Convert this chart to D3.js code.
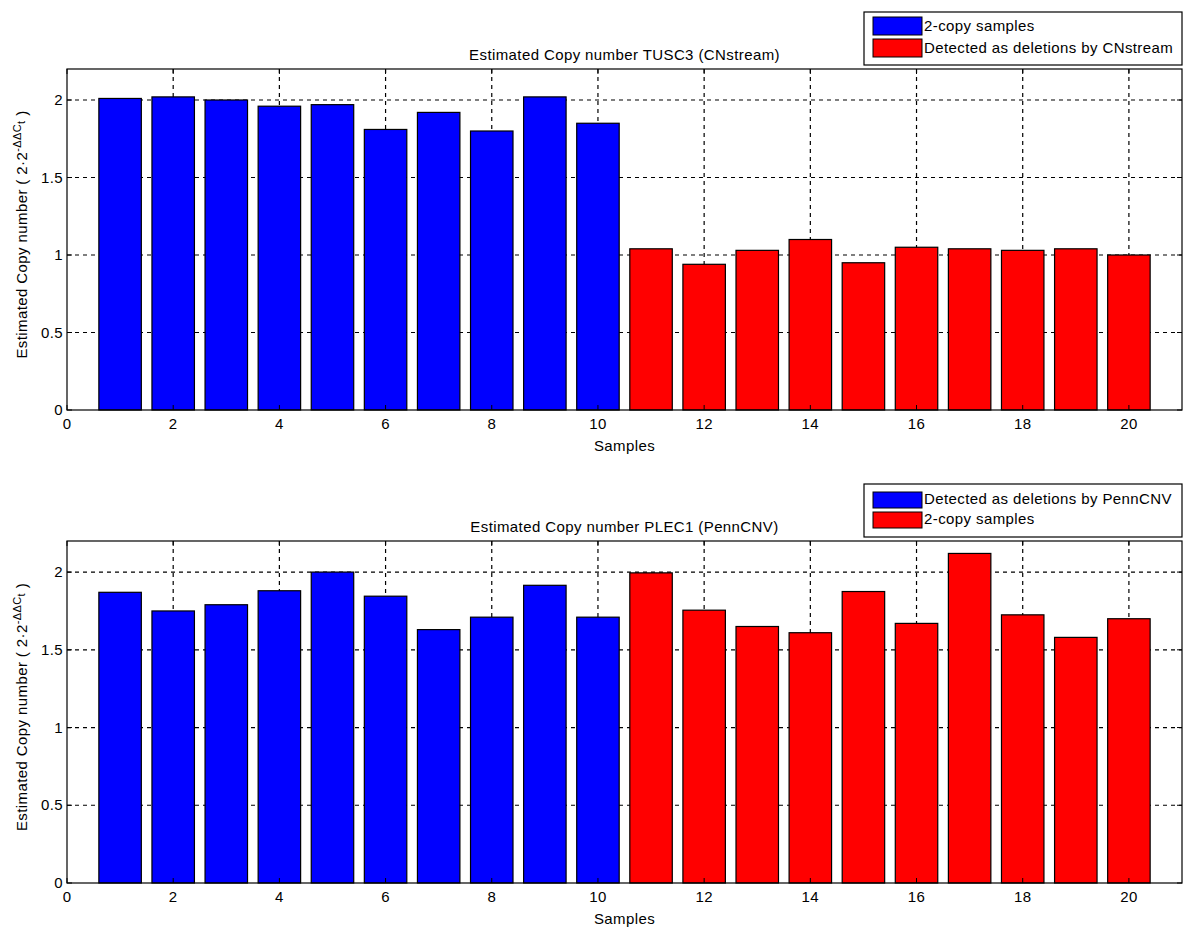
<!DOCTYPE html>
<html><head><meta charset="utf-8">
<script src="https://cdn.jsdelivr.net/npm/d3@7"></script>
<style>body{margin:0;background:#fff;} text{font-family:Arial,"Liberation Sans",sans-serif;letter-spacing:0.4px;}</style>
</head><body>
<svg id="c" width="1200" height="948"></svg>
<script>
const samples = d3.range(1, 21);
const topValues = [2.01,2.02,2.00,1.96,1.97,1.81,1.92,1.80,2.02,1.85,1.04,0.94,1.03,1.10,0.95,1.05,1.04,1.03,1.04,1.00];
const bottomValues = [1.87,1.75,1.79,1.88,2.00,1.845,1.63,1.71,1.915,1.71,1.995,1.755,1.65,1.61,1.875,1.67,2.12,1.725,1.58,1.70];
const topTitle = "Estimated Copy number TUSC3 (CNstream)";
const bottomTitle = "Estimated Copy number PLEC1 (PennCNV)";
const topLegend = ["2-copy samples", "Detected as deletions by CNstream"];
const bottomLegend = ["Detected as deletions by PennCNV", "2-copy samples"];
const xTicks = [0,2,4,6,8,10,12,14,16,18,20];
const yTicks = [0,0.5,1,1.5,2];
const groupColors = ["#0000ff", "#ff0000"];

const svg = d3.select("#c");
const FS = 15;

function panel(cfg){
  const L=67, R=1182, T=cfg.top, B=cfg.bottom;
  const x = d3.scaleLinear().domain([0,21]).range([L,R]);
  const y = d3.scaleLinear().domain([0,2.2]).range([B,T]);
  const g = svg.append("g");
  g.selectAll(".gx").data(xTicks.filter(d=>d>0)).join("line")
    .attr("x1",d=>x(d)).attr("x2",d=>x(d)).attr("y1",T).attr("y2",B)
    .attr("stroke","#000").attr("stroke-dasharray","4,4").attr("stroke-width",1.2);
  g.selectAll(".gy").data(yTicks.filter(d=>d>0)).join("line")
    .attr("x1",L).attr("x2",R).attr("y1",d=>y(d)).attr("y2",d=>y(d))
    .attr("stroke","#000").attr("stroke-dasharray","4,4").attr("stroke-width",1.2);
  const bw = x(0.8)-x(0);
  g.selectAll(".bar").data(cfg.values).join("rect")
    .attr("x",(d,i)=>x(samples[i])-bw/2).attr("width",bw)
    .attr("y",d=>y(d)).attr("height",d=>y(0)-y(d))
    .attr("fill",(d,i)=>samples[i]<=10?groupColors[0]:groupColors[1])
    .attr("stroke","#000").attr("stroke-width",1.2);
  g.append("rect").attr("x",L).attr("y",T).attr("width",R-L).attr("height",B-T)
    .attr("fill","none").attr("stroke","#000").attr("stroke-width",1.2);
  const tl=5;
  xTicks.forEach(t=>{
    g.append("line").attr("x1",x(t)).attr("x2",x(t)).attr("y1",B).attr("y2",B-tl).attr("stroke","#000");
    g.append("line").attr("x1",x(t)).attr("x2",x(t)).attr("y1",T).attr("y2",T+tl).attr("stroke","#000");
  });
  yTicks.forEach(t=>{
    g.append("line").attr("x1",L).attr("x2",L+tl).attr("y1",y(t)).attr("y2",y(t)).attr("stroke","#000");
    g.append("line").attr("x1",R).attr("x2",R-tl).attr("y1",y(t)).attr("y2",y(t)).attr("stroke","#000");
  });
  g.selectAll(".xl").data(xTicks).join("text")
    .attr("x",d=>x(d)).attr("y",B+19).attr("text-anchor","middle")
    .attr("font-size",FS).text(d=>d);
  g.selectAll(".yl").data(yTicks).join("text")
    .attr("x",L-4).attr("y",d=>y(d)+5).attr("text-anchor","end")
    .attr("font-size",FS).text(d=>d);
  g.append("text").attr("x",(L+R)/2).attr("y",T-9).attr("text-anchor","middle")
    .attr("font-size",FS).text(cfg.title);
  g.append("text").attr("x",(L+R)/2).attr("y",B+41).attr("text-anchor","middle")
    .attr("font-size",FS).text("Samples");
  const yl = g.append("text").attr("transform",`translate(27,${(T+B)/2 - 5}) rotate(-90)`)
    .attr("text-anchor","middle").attr("font-size",FS);
  yl.append("tspan").text("Estimated Copy number ( 2·2");
  yl.append("tspan").attr("dy",-6).attr("font-size",11).text("-ΔΔC");
  yl.append("tspan").attr("dy",4).attr("font-size",11).text("t");
  yl.append("tspan").attr("dy",2).text(" )");
  const lg = svg.append("g");
  const lx=864, ly=cfg.legTop, lw=318, lh=cfg.legH;
  lg.append("rect").attr("x",lx).attr("y",ly).attr("width",lw).attr("height",lh)
    .attr("fill","#fff").attr("stroke","#000").attr("stroke-width",1.2);
  cfg.legend.forEach((t,i)=>{
    const yy = ly+cfg.legPad+i*cfg.legStep;
    lg.append("rect").attr("x",lx+9).attr("y",yy).attr("width",49).attr("height",cfg.legStep-4)
      .attr("fill",groupColors[i]).attr("stroke","#000");
    lg.append("text").attr("x",lx+60).attr("y",yy+cfg.legStep-8).attr("font-size",FS).text(t);
  });
}

panel({top:69,bottom:410,values:topValues,title:topTitle,legend:topLegend,legTop:12,legH:53,legStep:22,legPad:5});
panel({top:541,bottom:883,values:bottomValues,title:bottomTitle,legend:bottomLegend,legTop:484,legH:53,legStep:20,legPad:8});
</script>
</body></html>
